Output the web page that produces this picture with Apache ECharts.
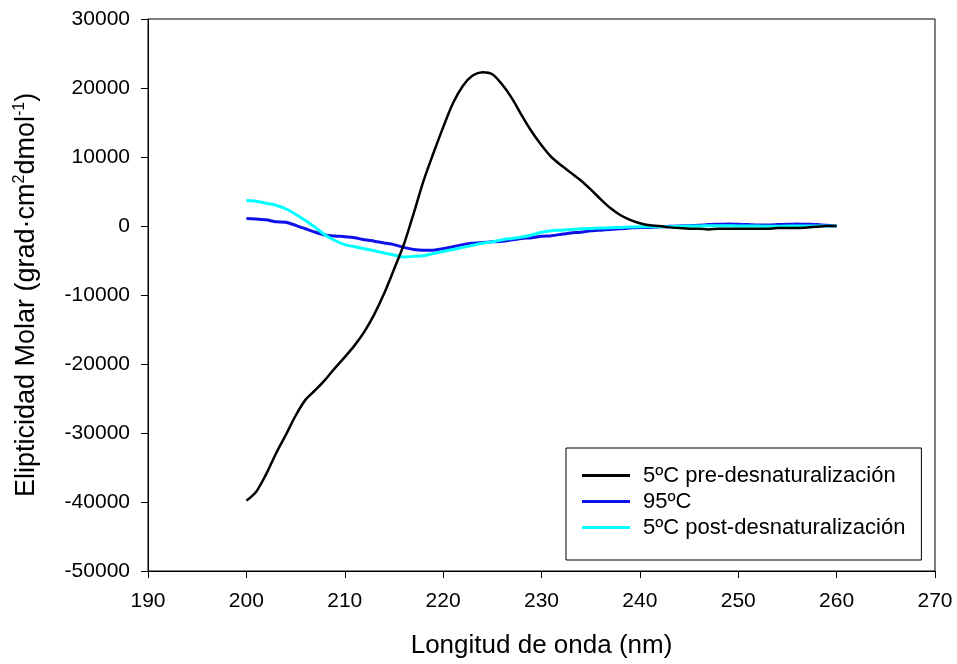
<!DOCTYPE html>
<html>
<head>
<meta charset="utf-8">
<script src="https://cdn.jsdelivr.net/npm/echarts@6/dist/echarts.min.js"></script>
<style>
  html, body { margin: 0; padding: 0; background: #fff; }
  #chart { width: 957px; height: 664px; }
</style>
</head>
<body>
<div id="chart"></div>
<script>
// longitud de onda (nm), 1 nm
var wl = [];
for (var w = 200; w <= 260; w++) wl.push(w);

var pre5 = [-39800, -38500, -36000, -33000, -30300, -27500, -25200, -23800, -22300, -20600,
  -19000, -17300, -15300, -12800, -9800, -6300, -2700, 1800, 6500, 10500,
  14300, 17800, 20300, 21800, 22300, 22000, 20500, 18500, 16000, 13700,
  11700, 10000, 8800, 7700, 6600, 5300, 3900, 2600, 1600, 900,
  400, 100, 0, -200, -300, -400, -400, -500, -400, -400,
  -400, -400, -400, -400, -300, -300, -300, -200, -100, 0, 0];

var t95 = [1100, 1000, 900, 600, 550, 100, -400, -900, -1300, -1450,
  -1550, -1700, -2000, -2200, -2450, -2700, -3100, -3400, -3500, -3500,
  -3300, -3000, -2700, -2500, -2400, -2300, -2200, -2000, -1800, -1700,
  -1500, -1400, -1200, -1000, -900, -700, -600, -500, -400, -300,
  -200, -200, -100, -50, 0, 50, 100, 200, 250, 300,
  250, 200, 150, 150, 200, 250, 300, 250, 200, 100, 0];

var post5 = [3700, 3600, 3300, 3000, 2500, 1700, 800, -200, -1300, -2100,
  -2700, -3000, -3300, -3600, -3900, -4200, -4500, -4400, -4300, -4000,
  -3700, -3400, -3100, -2800, -2500, -2300, -2000, -1800, -1600, -1300,
  -900, -700, -600, -500, -400, -350, -300, -250, -200, -150,
  -100, -100, -100, -100, -50, 0, 0, 50, 50, 50,
  0, 0, 0, -50, -50, 0, 0, 0, 0, 0, 0];

var names = ['5ºC pre-desnaturalización', '95ºC', '5ºC post-desnaturalización'];
var colors = ['#000000', '#1010e8', '#00ffff'];

function pairs(ys) {
  return wl.map(function (x, i) { return [x, ys[i]]; });
}
function plain(v) { return String(v); }

var font = 'Liberation Sans, Arial, sans-serif';
var chart = echarts.init(document.getElementById('chart'));

chart.setOption({
  animation: false,
  textStyle: { fontFamily: font },
  grid: {
    left: 148, right: 22, top: 19, bottom: 93,
    show: true, borderColor: '#000', borderWidth: 1
  },
  legend: {
    orient: 'vertical',
    left: 566, top: 448,
    padding: [16, 16, 21, 16],
    borderColor: '#000', borderWidth: 1,
    icon: 'rect',
    itemWidth: 48, itemHeight: 3,
    itemGap: 3,
    textStyle: { fontSize: 22, color: '#000', lineHeight: 23, padding: [0, 0, 0, 8] },
    data: names
  },
  xAxis: {
    type: 'value',
    min: 190, max: 270, interval: 10,
    name: 'Longitud de onda (nm)',
    nameLocation: 'middle',
    nameGap: 62,
    nameTextStyle: { fontSize: 26, color: '#000' },
    axisLine: { onZero: false, lineStyle: { color: '#000', width: 1 } },
    axisTick: { length: 7, lineStyle: { color: '#000' } },
    axisLabel: { fontSize: 21, color: '#000', margin: 20, formatter: plain },
    splitLine: { show: false }
  },
  yAxis: {
    type: 'value',
    min: -50000, max: 30000, interval: 10000,
    name: 'Elipticidad Molar (grad·cm{sup|2}dmol{sup|-1})',
    nameLocation: 'middle',
    nameGap: 106,
    nameTextStyle: {
      fontSize: 27, color: '#000', lineHeight: 30,
      rich: { sup: { fontSize: 16, verticalAlign: 'top', lineHeight: 30, color: '#000' } }
    },
    axisLine: { onZero: false, lineStyle: { color: '#000', width: 1 } },
    axisTick: { length: 7, lineStyle: { color: '#000' } },
    axisLabel: { fontSize: 21, color: '#000', margin: 18, formatter: plain },
    splitLine: { show: false }
  },
  series: [
    { name: names[0], type: 'line', data: pairs(pre5), showSymbol: false, smooth: 0.3,
      lineStyle: { color: colors[0], width: 2.5 }, itemStyle: { color: colors[0] }, z: 3 },
    { name: names[1], type: 'line', data: pairs(t95), showSymbol: false, smooth: 0.2,
      lineStyle: { color: colors[1], width: 3 }, itemStyle: { color: colors[1] }, z: 2 },
    { name: names[2], type: 'line', data: pairs(post5), showSymbol: false, smooth: 0.3,
      lineStyle: { color: colors[2], width: 3 }, itemStyle: { color: colors[2] }, z: 2 }
  ]
});
</script>
</body>
</html>
